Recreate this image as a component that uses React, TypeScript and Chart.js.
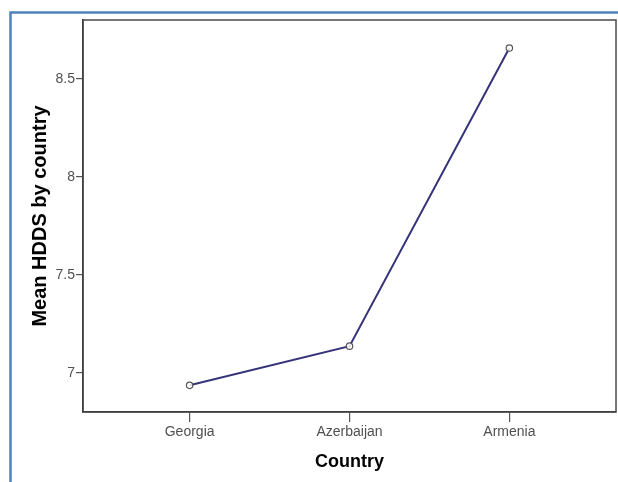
import React, { useEffect, useRef } from 'react';
import { Chart, registerables } from 'chart.js';

Chart.register(...registerables);

const categories = ['Georgia', 'Azerbaijan', 'Armenia'];
const meanHdds = [6.936, 7.136, 8.657];
const yTickValues = [7, 7.5, 8, 8.5];
const yTitle = 'Mean HDDS by country';
const xTitle = 'Country';

const tickFont = "'Liberation Sans Narrow', 'Arial Narrow', 'Liberation Sans', Arial, sans-serif";
const titleFont = "'Liberation Sans', Arial, sans-serif";

const framePlugin = {
  id: 'framePlugin',
  beforeDraw(chart: any) {
    const ctx = chart.ctx;
    ctx.save();
    ctx.fillStyle = '#ffffff';
    ctx.fillRect(0, 0, chart.width, chart.height);
    ctx.strokeStyle = '#4F81BD';
    ctx.lineWidth = 2.5;
    ctx.beginPath();
    ctx.moveTo(10.5, chart.height + 2);
    ctx.lineTo(10.5, 12.5);
    ctx.lineTo(chart.width + 2, 12.5);
    ctx.stroke();
    ctx.restore();
  },
  afterDatasetsDraw(chart: any) {
    const { ctx, chartArea } = chart;
    ctx.save();
    ctx.strokeStyle = '#4a4a4a';
    ctx.lineWidth = 1.5;
    ctx.strokeRect(chartArea.left, chartArea.top, chartArea.right - chartArea.left, chartArea.bottom - chartArea.top);
    ctx.restore();
  },
};

export default function App() {
  const canvasRef = useRef<HTMLCanvasElement | null>(null);

  useEffect(() => {
    if (!canvasRef.current) return;
    const chart = new Chart(canvasRef.current, {
      type: 'line',
      data: {
        datasets: [
          {
            label: yTitle,
            data: meanHdds.map((y, i) => ({ x: i, y })),
            borderColor: '#35347a',
            borderWidth: 2,
            pointRadius: 3.2,
            pointBorderWidth: 1.2,
            pointBorderColor: '#555555',
            pointBackgroundColor: 'rgba(255,255,255,0.85)',
            tension: 0,
            fill: false,
          },
        ],
      },
      options: {
        animation: false,
        responsive: false,
        layout: { autoPadding: false, padding: { left: 0, top: 20, right: 2, bottom: 0 } },
        plugins: {
          legend: { display: false },
          tooltip: { enabled: false },
        },
        scales: {
          x: {
            type: 'linear',
            min: -0.667,
            max: 2.667,
            afterBuildTicks: (scale: any) => {
              scale.ticks = categories.map((_, i) => ({ value: i }));
            },
            afterFit: (scale: any) => {
              scale.height = 70;
              scale.paddingLeft = 0;
              scale.paddingRight = 0;
            },
            ticks: {
              callback: (v: any) => categories[v] ?? '',
              color: '#505050',
              font: { family: tickFont, size: 14 },
              padding: 2,
              maxRotation: 0,
              autoSkip: false,
            },
            grid: {
              display: true,
              drawOnChartArea: false,
              drawTicks: true,
              tickLength: 10,
              color: '#555555',
              lineWidth: 1.2,
            },
            border: { display: true, color: '#222222', width: 1.5 },
            title: {
              display: true,
              text: xTitle,
              color: '#000000',
              font: { family: titleFont, size: 18, weight: 'bold' },
              padding: { top: 0, bottom: 9 },
            },
          },
          y: {
            type: 'linear',
            min: 6.8,
            max: 8.8,
            afterBuildTicks: (scale: any) => {
              scale.ticks = yTickValues.map((value) => ({ value }));
            },
            afterFit: (scale: any) => {
              scale.width = 83;
              scale.paddingTop = 0;
              scale.paddingBottom = 0;
            },
            ticks: {
              callback: (v: any) => String(v),
              color: '#505050',
              font: { family: tickFont, size: 14 },
              padding: 1,
            },
            grid: {
              display: true,
              drawOnChartArea: false,
              drawTicks: true,
              tickLength: 7,
              color: '#555555',
              lineWidth: 1.2,
            },
            border: { display: true, color: '#222222', width: 1.5 },
            title: {
              display: true,
              text: yTitle,
              color: '#000000',
              font: { family: titleFont, size: 20, weight: 'bold' },
              padding: { top: 28, bottom: 0 },
            },
          },
        },
      },
      plugins: [framePlugin],
    });
    return () => chart.destroy();
  }, []);

  return (
    <div style={{ position: 'absolute', left: 0, top: 0, width: 618, height: 482 }}>
      <canvas ref={canvasRef} width={618} height={482} />
    </div>
  );
}
